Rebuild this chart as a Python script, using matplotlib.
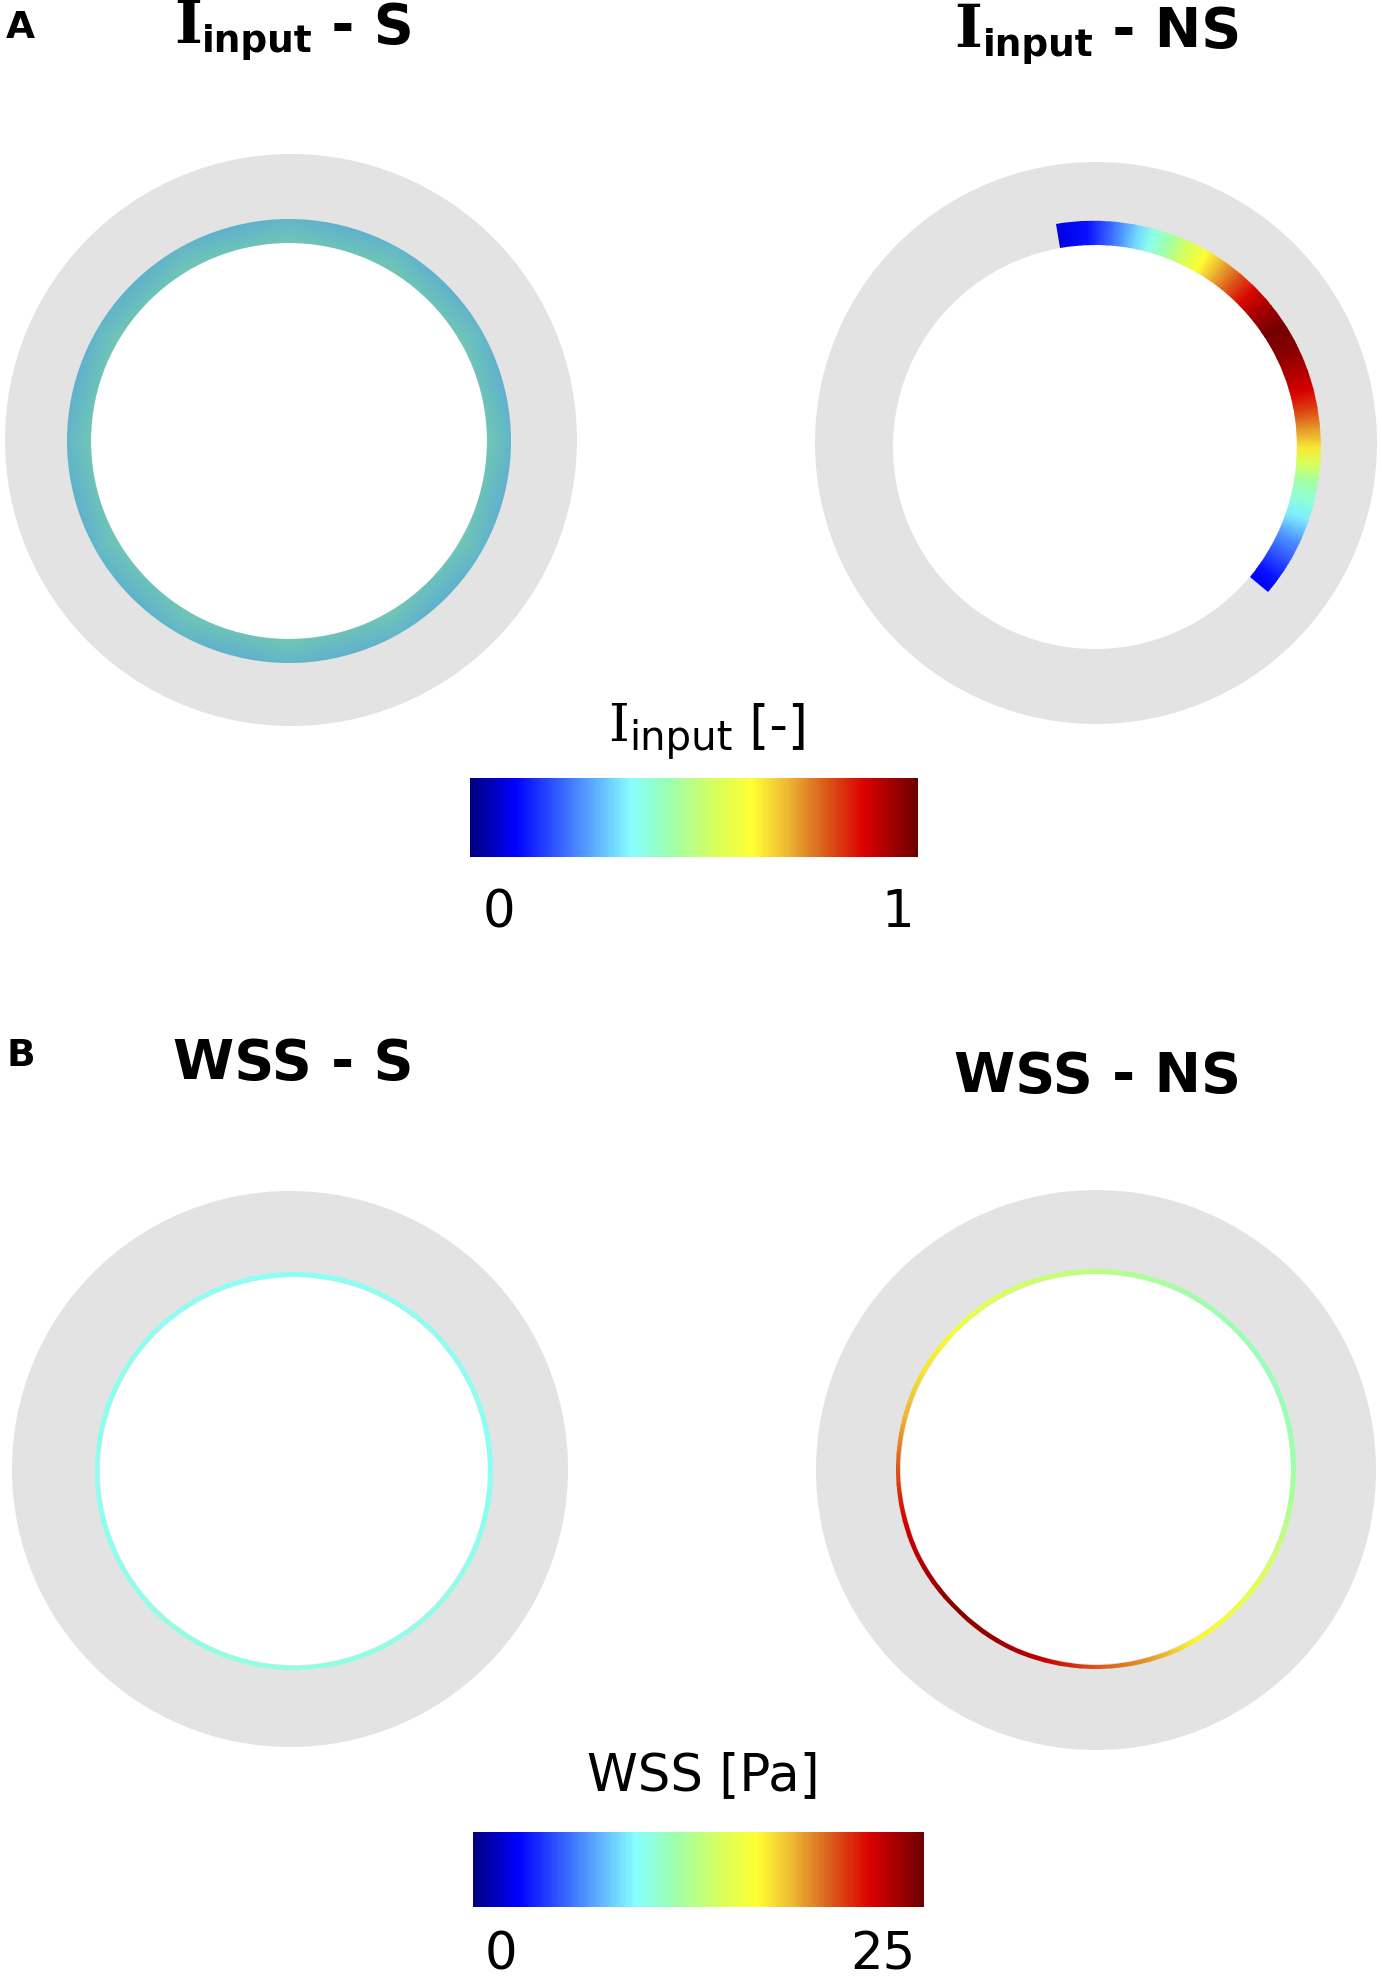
import numpy as np
import matplotlib
matplotlib.use("Agg")
import matplotlib.pyplot as plt
from matplotlib.colors import LinearSegmentedColormap, Normalize
from matplotlib.cm import ScalarMappable
from matplotlib.patches import Circle, Wedge
from matplotlib.font_manager import FontProperties
from matplotlib.transforms import IdentityTransform

# ---------------- data ----------------
# colormap anchor stops (position, colour)
cmap_pos = [0.0, 0.10, 0.23, 0.36, 0.44, 0.55, 0.63, 0.71, 0.78, 0.88, 1.0]
cmap_col = [(0.0, 0.0, 0.50), (0.0, 0.0, 1.0), (0.27, 0.50, 1.0), (0.53, 1.0, 1.0),
            (0.60, 1.0, 0.70), (0.85, 1.0, 0.35), (1.0, 1.0, 0.20), (0.93, 0.72, 0.20),
            (0.86, 0.42, 0.12), (0.86, 0.0, 0.0), (0.43, 0.0, 0.0)]

# Panel A, stenosis (S): band values around the wall (outer / inner edge)
a_s_angles = [0, 30, 60, 90, 120, 150, 180, 210, 240, 270, 300, 330]
a_s_outer = [0.32, 0.32, 0.32, 0.32, 0.32, 0.32, 0.32, 0.32, 0.32, 0.32, 0.32, 0.32]
a_s_inner = [0.41, 0.41, 0.41, 0.41, 0.41, 0.41, 0.41, 0.41, 0.41, 0.41, 0.41, 0.41]

# Panel A, non-stenosis (NS): open arc, angle (deg) -> I_input
a_ns_angles = [100, 92, 85, 79, 75, 70, 65, 60, 55, 50, 45, 40, 33, 27, 21, 15,
               10, 5, 0, -4, -9, -14, -19, -25, -31, -36, -40]
a_ns_values = [0.08, 0.12, 0.22, 0.32, 0.38, 0.46, 0.55, 0.63, 0.72, 0.80, 0.87, 0.93,
               0.99, 0.97, 0.93, 0.88, 0.82, 0.74, 0.66, 0.56, 0.46, 0.40, 0.34, 0.25,
               0.18, 0.12, 0.10]

# Panel B: WSS [Pa] along the lumen wall
b_angles = [0, 15, 30, 45, 60, 75, 90, 105, 120, 135, 150, 165, 180, 195, 210, 225,
            240, 255, 270, 285, 300, 315, 330, 345]
b_s_values = [9.3, 9.3, 9.3, 9.3, 9.3, 9.3, 9.2, 9.2, 9.3, 9.3, 9.4, 9.4, 9.3, 9.4, 9.5, 9.6,
              9.7, 9.8, 9.8, 9.7, 9.6, 9.6, 9.5, 9.4]
b_ns_values = [11.3, 11.0, 10.8, 11.0, 11.3, 11.8, 12.5, 13.0, 14.0, 15.2, 16.5, 17.8,
               20.0, 22.0, 23.3, 24.3, 23.8, 22.5, 20.0, 18.5, 16.0, 15.0, 13.8, 12.3]

titles_a = ["S", "NS"]
titles_b = ["WSS - S", "WSS - NS"]
cbar_a_label = ("I", "input", " [-]")
cbar_a_ticks = ["0", "1"]
cbar_b_label = "WSS [Pa]"
cbar_b_ticks = ["0", "25"]

# ---------------- figure ----------------
W, H = 1382, 1978
fig = plt.figure(figsize=(W / 100, H / 100), dpi=100)
ax = fig.add_axes([0, 0, 1, 1])
ax.set_xlim(0, W)
ax.set_ylim(H, 0)
ax.axis("off")

cmap = LinearSegmentedColormap.from_list("pv_jet", list(zip(cmap_pos, cmap_col)))
norm_i = Normalize(0, 1)
norm_w = Normalize(0, 25)
GRAY = "#e3e3e3"


def vessel(cx, cy, R, icx, icy, r_hole):
    ax.add_patch(Circle((cx, cy), R, facecolor=GRAY, edgecolor="none", zorder=1))
    ax.add_patch(Circle((icx, icy), r_hole, facecolor="white", edgecolor="none", zorder=2))


def band(cx, cy, r_in, r_out, angles, v_in, v_out, norm, closed, margin=8):
    ang = list(angles)
    vi = list(v_in)
    vo = list(v_out)
    if closed:
        ang = ang + [ang[0] + 360]
        vi = vi + [vi[0]]
        vo = vo + [vo[0]]
    th = np.deg2rad(np.array(ang, dtype=float))
    rr = np.array([r_in - margin, r_out + margin], dtype=float)[:, None]
    X = cx + rr * np.cos(th)[None, :]
    Y = cy - rr * np.sin(th)[None, :]
    C = np.array([vi, vo], dtype=float)
    m = ax.pcolormesh(X, Y, C, shading="gouraud", cmap=cmap, norm=norm,
                      antialiased=False, zorder=4)
    if closed:
        t1, t2 = 0, 360
    else:
        t1, t2 = -max(ang), -min(ang)   # y axis points down
    clip = Wedge((cx, cy), r_out, t1, t2, width=r_out - r_in, transform=ax.transData)
    m.set_clip_path(clip)
    return m


# ---- Panel A left (S)
vessel(291, 440, 286, 289, 441, 198)
band(289, 441, 198, 222, a_s_angles, a_s_inner, a_s_outer, norm_i, True, margin=12)
# soft shading of the uniform band, as in the rendered reference
ax.add_patch(Wedge((289, 441), 222, 0, 360, width=24, facecolor="black", alpha=0.18,
                   edgecolor="none", zorder=5))

# ---- Panel A right (NS)
vessel(1096, 443, 281, 1095, 447, 202)
band(1095, 447, 202, 226, a_ns_angles, a_ns_values, a_ns_values, norm_i, False)

# ---- Panel B left (S)
vessel(290, 1469, 278, 294, 1471, 194)
band(294, 1471, 194.5, 199, b_angles, b_s_values, b_s_values, norm_w, True)

# ---- Panel B right (NS)
vessel(1096, 1470, 280, 1096, 1469, 195)
band(1096, 1469, 195.5, 200, b_angles, b_ns_values, b_ns_values, norm_w, True)

# ---------------- text ----------------
renderer = fig.canvas.get_renderer()


def pieces(xc, ybase, items):
    """items: (string, FontProperties, dy_down_px). Centered at xc, baseline ybase (from top)."""
    objs = []
    x = 0.0
    for s, fp, dy in items:
        t = fig.text(0, 0, s, fontproperties=fp, transform=IdentityTransform(),
                     ha="left", va="baseline", color="black")
        w = t.get_window_extent(renderer).width
        objs.append((t, x, dy))
        x += w
    x0 = xc - x / 2
    for t, off, dy in objs:
        t.set_position((x0 + off, H - (ybase + dy)))


serif_b = FontProperties(family="DejaVu Serif", weight="bold", size=43)
sans_b_sub = FontProperties(family="DejaVu Sans", weight="bold", size=27)
sans_b = FontProperties(family="DejaVu Sans", weight="bold", size=40)

pieces(294, 43, [("I", serif_b, 0), ("input", sans_b_sub, 9), (" - " + titles_a[0], sans_b, 0)])
pieces(1098, 47, [("I", serif_b, 0), ("input", sans_b_sub, 9), (" - " + titles_a[1], sans_b, 0)])
pieces(293, 1079, [(titles_b[0], sans_b, 0)])
pieces(1097, 1092, [(titles_b[1], sans_b, 0)])

lab_fp = FontProperties(family="DejaVu Sans", weight="bold", size=27)
fig.text(6, H - 38, "A", fontproperties=lab_fp, transform=IdentityTransform(), va="baseline")
fig.text(6, H - 1066, "B", fontproperties=lab_fp, transform=IdentityTransform(), va="baseline")

# colour bar labels
serif_r = FontProperties(family="DejaVu Serif", size=38)
sans_sub = FontProperties(family="DejaVu Sans", size=29)
sans_r = FontProperties(family="DejaVu Sans", size=37)
pieces(708, 741, [(cbar_a_label[0], serif_r, 0), (cbar_a_label[1], sans_sub, 9),
                  (cbar_a_label[2], sans_r, 0)])
pieces(703, 1790, [(cbar_b_label, sans_r, 0)])


def cbar(x0, y0, x1, y1, norm):
    cax = fig.add_axes([x0 / W, 1 - y1 / H, (x1 - x0) / W, (y1 - y0) / H])
    cb = fig.colorbar(ScalarMappable(norm=norm, cmap=cmap), cax=cax, orientation="horizontal")
    cb.outline.set_visible(False)
    cax.set_xticks([])
    cax.set_yticks([])
    return cax


cax_a = cbar(470, 778, 918, 857, norm_i)
cax_b = cbar(473, 1832, 924, 1907, norm_w)

tick_fp = FontProperties(family="DejaVu Sans", size=37)
fig.text(483, H - 927, cbar_a_ticks[0], fontproperties=tick_fp, transform=IdentityTransform(),
         ha="left", va="baseline")
fig.text(914, H - 927, cbar_a_ticks[1], fontproperties=tick_fp, transform=IdentityTransform(),
         ha="right", va="baseline")
fig.text(485, H - 1969, cbar_b_ticks[0], fontproperties=tick_fp, transform=IdentityTransform(),
         ha="left", va="baseline")
fig.text(916, H - 1969, cbar_b_ticks[1], fontproperties=tick_fp, transform=IdentityTransform(),
         ha="right", va="baseline")

fig.savefig("out.png", dpi=100, facecolor="white")
